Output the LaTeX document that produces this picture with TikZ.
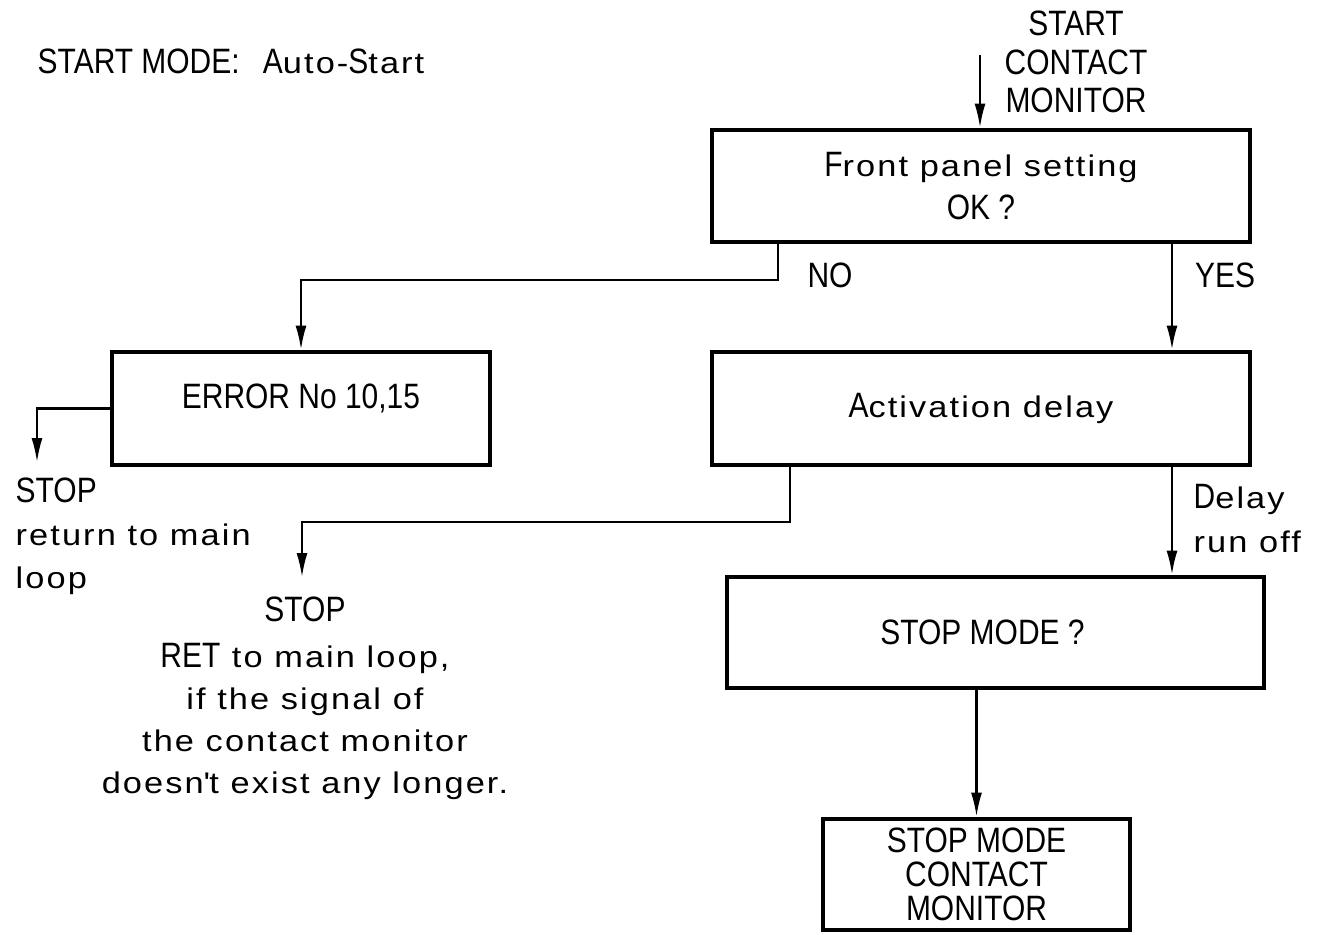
\documentclass[tikz,border=0pt]{standalone}
\usepackage{fontspec}
\setmainfont{Liberation Sans}[FakeStretch=1.15, LetterSpace=7]
\newfontfamily\capsf{Liberation Sans}[FakeStretch=0.85, Scale=1.18]
\newcommand\cp[1]{{\capsf #1}}
\usetikzlibrary{arrows.meta,positioning,calc}

\begin{document}
\begin{tikzpicture}[
  blk/.style={rectangle, draw, line width=1.4pt, inner sep=0pt, align=center, minimum height=1.13cm, font=\fontsize{8.5}{12}\selectfont},
  flow/.style={line width=0.6pt, -{Latex[length=2.4mm,width=1.1mm]}},
  txt/.style={inner sep=0pt, font=\fontsize{8.5}{12.3}\selectfont}
]
  \useasboundingbox (0,0) rectangle (13.33,-9.35);
  % header
  \node[txt, anchor=west] (mode) at (0.37,-0.61) {\cp{START MODE:}\ \ \cp{A}uto-\cp{S}tart};
  \node[txt, align=center, font=\capsf\fontsize{8.5}{11}\selectfont] (start) at (10.76,-0.62) {START\\CONTACT\\MONITOR};
  \coordinate (in) at (9.80,-0.55);
  % boxes
  \node[blk, minimum width=5.38cm, minimum height=1.12cm] (front) at (9.81,-1.86) {\cp{F}ront panel setting\\\cp{OK ?}};
  \node[blk, minimum width=3.78cm] (err) at (3.01,-4.085) {\raisebox{2.4mm}{\capsf ERROR No 10,15}};
  \node[blk, minimum width=5.38cm] (act) at (9.81,-4.085) {\cp{A}ctivation delay};
  \node[blk, minimum width=5.37cm, minimum height=1.11cm] (stopm) at (9.955,-6.325) {\cp{STOP MODE ?}\hspace*{2.6mm}};
  \node[blk, minimum width=3.07cm, minimum height=1.11cm, font=\capsf\fontsize{8.5}{9.6}\selectfont] (fin) at (9.765,-8.745) {STOP MODE\\CONTACT\\MONITOR};
  % branch points
  \coordinate (no) at (7.78,-2.80);
  \coordinate (yes) at (11.72,0);
  \coordinate (ret) at (7.90,-5.22);
  \coordinate (stopA) at (0.37,-4.62);
  \coordinate (stopB) at (3.02,-5.77);
  % connectors
  \draw[flow] (in) -- (in |- front.north);
  \draw[flow] (front.south -| no) -- (no) -| (err.north);
  \draw[flow] (front.south -| yes) -- (act.north -| yes);
  \draw[flow] (err.west) -| (stopA);
  \draw[flow] (act.south -| ret) -- (ret) -| (stopB);
  \draw[flow] (act.south -| yes) -- (stopm.north -| yes);
  \draw[flow] (stopm.south -| fin.north) -- (fin.north);
  % labels
  \node[txt, font=\capsf\fontsize{8.5}{12}\selectfont] (lno) at (8.30,-2.75) {NO};
  \node[txt, font=\capsf\fontsize{8.5}{12}\selectfont] (lyes) at (12.25,-2.75) {YES};
  \node[txt, anchor=north west, align=left] (lstopA) at (0.15,-4.77) {\cp{STOP}\\return to main\\loop};
  \node[txt, anchor=north, align=center, font=\fontsize{8.5}{12}\selectfont] (lstopB) at (3.05,-5.96) {\cp{STOP}\\[1pt]\cp{RET} to main loop,\\if the signal of\\the contact monitor\\doesn\textquotesingle t exist any longer.};
  \node[txt, anchor=north west, align=left] (ldelay) at (11.93,-4.84) {\cp{D}elay\\run off};
\end{tikzpicture}
\end{document}
